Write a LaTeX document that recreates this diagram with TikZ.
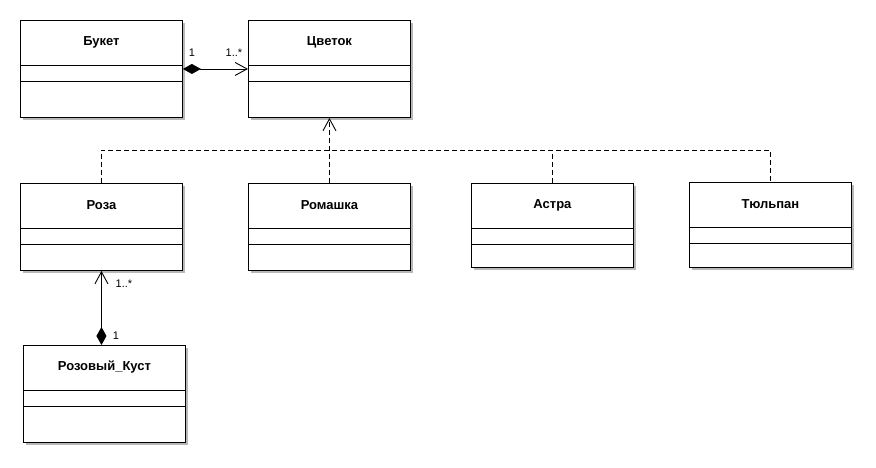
\documentclass[tikz,border=0pt]{standalone}
\usepackage{fontspec}
\setmainfont{Liberation Sans}
\usetikzlibrary{calc,shadows,arrows.meta}
\tikzset{
  clsbox/.style={draw, line width=0.9pt, fill=white, anchor=north west, inner sep=0pt,
    minimum width=162pt, drop shadow={shadow xshift=3pt, shadow yshift=-3pt, fill=black!28, opacity=1}},
  clstitle/.style={font=\bfseries\fontsize{13}{15}\selectfont, inner sep=1pt},
  mult/.style={font=\fontsize{11}{13}\selectfont, inner sep=1pt},
  conn/.style={line width=0.9pt},
  dsh/.style={line width=0.9pt, dash pattern=on 5pt off 3pt},
  diamtip/.tip={Diamond[length=18pt, width=10pt, fill=black]},
  barbtip/.tip={Straight Barb[length=12pt, width=13pt, line width=0.9pt]},
}
\newcommand{\umlcls}[5]{%
  \node[clsbox, minimum height=#4pt] (#1) at (#2,#3) {};
  \node[clstitle] (#1-t) at ($(#1.north)+(0,22.5)$) {#5};
  \draw[line width=0.9pt] ($(#1.north west)+(0,45)$) -- ($(#1.north east)+(0,45)$);
  \draw[line width=0.9pt] ($(#1.north west)+(0,61)$) -- ($(#1.north east)+(0,61)$);
}
\begin{document}
\begin{tikzpicture}[x=1pt,y=-1pt]
\useasboundingbox (0,0) rectangle (876,467);
\umlcls{buk}{20}{20}{97}{Букет}
\umlcls{cvet}{248}{20}{97}{Цветок}
\umlcls{roza}{20}{183}{87}{Роза}
\umlcls{rom}{248}{183}{87}{Ромашка}
\umlcls{ast}{471}{183}{84}{Астра}
\umlcls{tul}{689}{182}{85}{Тюльпан}
\umlcls{kust}{23}{345}{97}{Розовый\_Куст}
% composition Букет - Цветок
\draw[conn, {diamtip}-{barbtip}] (buk.east) -- (cvet.west);
\node[mult] (m1) at (192,53) {1};
\node[mult] (m2) at (234,53) {1..*};
% composition Розовый_Куст - Роза
\draw[conn, {diamtip}-{barbtip}] (roza.south |- kust.north) -- (roza.south);
\node[mult] (m3) at (124,284) {1..*};
\node[mult] (m4) at (116,336) {1};
% realization
\coordinate (bar) at (0,150);
\draw[dsh] (roza.north) -- (roza.north |- bar) -- (tul.north |- bar) -- (tul.north);
\draw[dsh] (ast.north) -- (ast.north |- bar);
\draw[dsh, -{barbtip}] (rom.north) -- (cvet.south);
\end{tikzpicture}
\end{document}
